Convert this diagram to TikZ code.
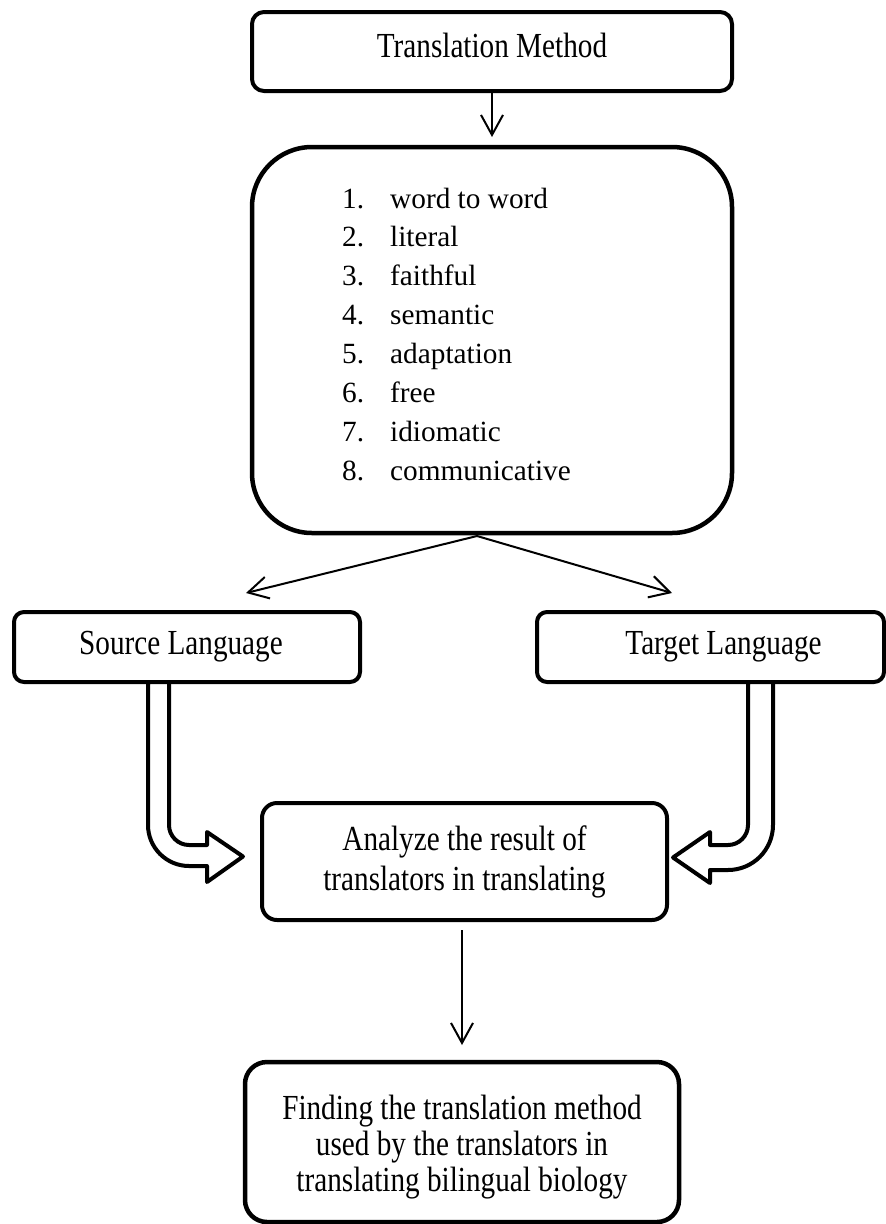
\documentclass[tikz,border=0pt]{standalone}
\usepackage{fontspec}
\setmainfont{Liberation Serif}
\newfontfamily\boxfont{Liberation Serif}[FakeStretch=0.83]
\usetikzlibrary{arrows.meta}
\begin{document}
\begin{tikzpicture}[x=1pt,y=-1pt,
  font=\fontsize{29.3}{35}\selectfont,
  box/.style={draw, line width=4pt, line join=round, rounded corners=#1, inner sep=0pt, outer sep=0pt, align=center, font=\boxfont\fontsize{35.2}{40}\selectfont},
  box/.default=12pt,
  thinarrow/.style={line width=2pt, -{Straight Barb[length=20pt,width=22pt]}},
  hollow/.style={draw, fill=white, line width=4pt, line join=round},
  item/.style={anchor=base west, inner sep=0pt}
]
\useasboundingbox (0,0) rectangle (886,1224);

% boxes
\node[box=12pt, minimum width=480pt, minimum height=79pt, text depth=13pt] (top) at (492,51.5) {Translation Method};
\node[box=60pt, line width=4.5pt, minimum width=480pt, minimum height=386pt] (list) at (492,340) {};
\node[box=10pt, minimum width=346pt, minimum height=70pt] (src) at (187,647) {Source Language\hspace*{12pt}};
\node[box=10pt, minimum width=347pt, minimum height=70pt] (tgt) at (710.5,647) {\hspace*{26pt}Target Language};
\node[box=15pt, minimum width=405pt, minimum height=117pt] (ana) at (464.5,861.5) {Analyze the result of\\translators in translating};
\node[box=22pt, line width=4.5pt, minimum width=434pt, minimum height=160pt, font=\boxfont\fontsize{35.2}{36}\selectfont] (find) at (462,1142) {\rule{0pt}{34pt}Finding the translation method\\used by the translators in\\translating bilingual biology};

% list
\foreach \n/\w [count=\i from 0] in {1/word to word, 2/literal, 3/faithful, 4/semantic, 5/adaptation, 6/free, 7/idiomatic, 8/communicative} {
  \node[item] (num\n) at ({342},{208+\i*38.9}) {\n.};
  \node[item] (word\n) at ({390},{208+\i*38.9}) {\w};
}

% thin arrows
\coordinate (srcin) at (246,593);
\coordinate (tgtin) at (672,593);
\draw[thinarrow] (top.south) -- ([yshift=10pt]list.north);
\draw[thinarrow] ([xshift=-15pt,yshift=-3pt]list.south) -- (srcin);
\draw[thinarrow] ([xshift=-15pt,yshift=-3pt]list.south) -- (tgtin);
\draw[thinarrow] ([xshift=-2.5pt,yshift=-10pt]ana.south) -- ([yshift=17pt]find.north);

% hollow bent arrows
\path[hollow] (148,682) -- (148,825) .. controls (148,847.6) and (166.4,866) .. (189,866)
  -- (207,866) -- (207,882) -- (243,856.5) -- (207,832) -- (207,845) -- (189,845)
  .. controls (178,845) and (169,836) .. (169,825) -- (169,682) -- cycle;
\path[hollow] (773,682) -- (773,825) .. controls (773,849.9) and (752.9,870) .. (728,870)
  -- (710,870) -- (710,883) -- (673,857.5) -- (710,832) -- (710,845) -- (728,845)
  .. controls (739,845) and (748,836) .. (748,825) -- (748,682) -- cycle;
\end{tikzpicture}
\end{document}
